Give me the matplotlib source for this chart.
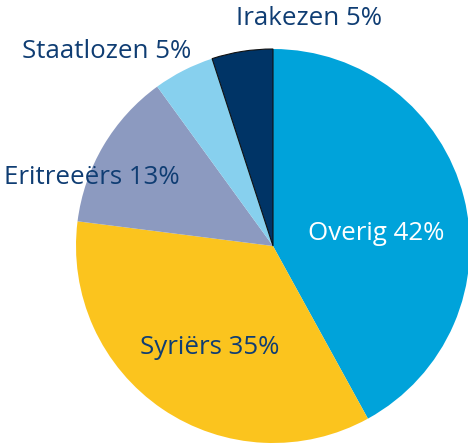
import matplotlib
matplotlib.use("Agg")
import matplotlib.pyplot as plt

# Data
categories = ["Overig", "Syriërs", "Eritreeërs", "Staatlozen", "Irakezen"]
values = [42, 35, 13, 5, 5]
colors = ["#00A3DA", "#FBC41E", "#8C9AC0", "#87D0EE", "#003466"]
text_colors = ["white", "#0F3D73", "#0F3D73", "#0F3D73", "#0F3D73"]

# layout (pixel centres of labels)
label_px = [(376, 233), (210, 348), (92, 177), (107, 52), (309, 18)]

W, H = 468, 446
cx, cy, R = 273, 246, 197

fig = plt.figure(figsize=(W / 100, H / 100), dpi=100)
ax = fig.add_axes([0, 0, 1, 1])
wedges, _ = ax.pie(values, colors=colors, startangle=90, counterclock=False,
                   radius=1, center=(0, 0))
wedges[-1].set_edgecolor("#111111")
wedges[-1].set_linewidth(0.8)

ax.set_xlim(-cx / R, (W - cx) / R)
ax.set_ylim(-(H - cy) / R, cy / R)
ax.set_aspect("equal")
ax.axis("off")

for cat, v, tc, (px, py) in zip(categories, values, text_colors, label_px):
    ax.text((px - cx) / R, (cy - py) / R, f"{cat} {v}%", color=tc,
            fontsize=18.6, family="Open Sans", ha="center", va="center")

fig.savefig("out.png", dpi=100)
